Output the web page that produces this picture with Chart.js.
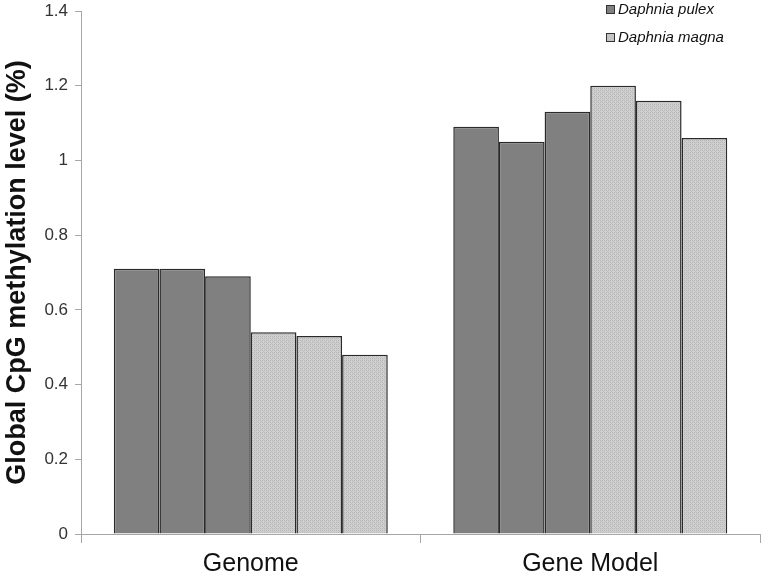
<!DOCTYPE html>
<html>
<head>
<meta charset="utf-8">
<script src="https://cdn.jsdelivr.net/npm/chart.js@4"></script>
<style>
  body { margin: 0; background: #fff; }
  #wrap { position: relative; width: 768px; height: 582px; }
  #legend { position: absolute; left: 606px; top: 0px; font-family: "Liberation Sans", Arial, sans-serif; font-style: italic; font-size: 15px; color: #111; }
  #legend div { height: 28px; line-height: 18px; white-space: nowrap; }
  #legend span.box { display: inline-block; width: 7px; height: 7px; border: 1px solid #333; margin-right: 3px; vertical-align: 0px; }
</style>
</head>
<body>
<div id="wrap">
  <canvas id="chart" width="768" height="582"></canvas>
  <div id="legend"></div>
</div>
<script>
const categories = ['Genome', 'Gene Model'];
const species = ['Daphnia pulex', 'Daphnia magna'];
// three replicates per species, values per category
const pulex1 = [0.71, 1.09];
const pulex2 = [0.71, 1.05];
const pulex3 = [0.69, 1.13];
const magna1 = [0.54, 1.20];
const magna2 = [0.53, 1.16];
const magna3 = [0.48, 1.06];
const yTicks = [0, 0.2, 0.4, 0.6, 0.8, 1, 1.2, 1.4];

// dotted light grey fill like the original
function makePattern() {
    const c = document.createElement('canvas');
    c.width = 4; c.height = 4;
    const g = c.getContext('2d');
    g.fillStyle = '#d0d0d0';
    g.fillRect(0, 0, 4, 4);
    g.fillStyle = '#b6b6b6';
    g.fillRect(0, 0, 1, 1); g.fillRect(2, 2, 1, 1);
    g.fillRect(2, 0, 1, 1); g.fillRect(0, 2, 1, 1);
    g.fillStyle = '#c3c3c3';
    g.fillRect(1, 1, 1, 1); g.fillRect(3, 3, 1, 1);
    return g.createPattern(c, 'repeat');
}

const darkFill = '#808080';
const lightFill = makePattern();

const series = [
    { label: species[0], data: pulex1, fill: darkFill },
    { label: species[0], data: pulex2, fill: darkFill },
    { label: species[0], data: pulex3, fill: darkFill },
    { label: species[1], data: magna1, fill: lightFill },
    { label: species[1], data: magna2, fill: lightFill },
    { label: species[1], data: magna3, fill: lightFill }
];

const legendEl = document.getElementById('legend');
legendEl.innerHTML = `
    <div><span class="box" style="background:#808080"></span>${species[0]}</div>
    <div><span class="box" style="background:#c4c4c4"></span>${species[1]}</div>
`;

const ctx = document.getElementById('chart').getContext('2d');
new Chart(ctx, {
    type: 'bar',
    data: {
        labels: categories,
        datasets: series.map(s => ({
            label: s.label,
            data: s.data,
            backgroundColor: s.fill,
            borderColor: '#2a2a2a',
            borderWidth: 1.5,
            borderSkipped: 'bottom'
        }))
    },
    options: {
        responsive: false,
        animation: false,
        events: [],
        layout: { padding: { left: 1, top: 0, right: 8, bottom: -3 } },
        categoryPercentage: 0.807,
        barPercentage: 1.0,
        plugins: {
            legend: { display: false },
            tooltip: { enabled: false }
        },
        scales: {
            x: {
                grid: { display: true, drawOnChartArea: false, color: '#a6a6a6', tickLength: 9, offset: true },
                border: { color: '#a6a6a6' },
                ticks: {
                    color: '#111',
                    font: { family: '"Liberation Sans", Arial, sans-serif', size: 25 },
                    padding: 6
                }
            },
            y: {
                min: 0,
                max: 1.4,
                afterBuildTicks: axis => { axis.ticks = yTicks.map(v => ({ value: v })); },
                afterFit: axis => { axis.paddingTop = 11; },
                grid: { display: true, drawOnChartArea: false, color: '#a6a6a6', tickLength: 6 },
                border: { color: '#a6a6a6' },
                ticks: {
                    color: '#333',
                    font: { family: '"Liberation Sans", Arial, sans-serif', size: 17 },
                    padding: 7,
                    callback: v => String(v)
                },
                title: {
                    display: true,
                    text: 'Global CpG methylation level (%)',
                    color: '#111',
                    font: { family: '"Liberation Sans", Arial, sans-serif', size: 27, weight: 'bold' },
                    padding: { top: 0, bottom: 4 }
                }
            }
        }
    }
});
</script>
</body>
</html>
